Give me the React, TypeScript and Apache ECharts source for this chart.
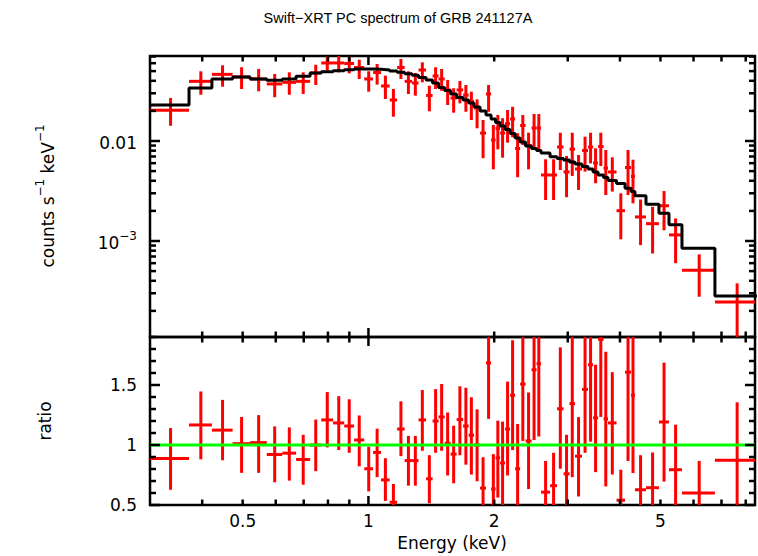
import React, { useEffect, useRef } from "react";
import * as echarts from "echarts";

const TITLE = "Swift\u2212XRT PC spectrum of GRB 241127A";
const Y_TOP_TITLE = "{a|counts s}{s|\u22121}{a| keV}{s|\u22121}";
const Y_BOT_TITLE = "ratio";
const X_TITLE = "Energy (keV)";

const X_MIN = 0.3;
const X_MAX = 8.42;
const TOP_MIN = 1.096e-4;
const TOP_MAX = 0.0708;
const BOT_MIN = 0.5;
const BOT_MAX = 1.9;

// energy bin edges (keV)
const binEdges = [
  0.3, 0.372, 0.422, 0.473, 0.521, 0.571, 0.622, 0.671, 0.725, 0.771, 0.823,
  0.875, 0.924, 0.977, 1.026, 1.072, 1.124, 1.171, 1.221, 1.272, 1.318, 1.374,
  1.424, 1.472, 1.522, 1.573, 1.626, 1.685, 1.737, 1.79, 1.85, 1.912, 1.966,
  2.015, 2.066, 2.123, 2.183, 2.244, 2.307, 2.377, 2.457, 2.526, 2.589, 2.721,
  2.828, 2.931, 3.029, 3.122, 3.245, 3.355, 3.449, 3.545, 3.654, 3.745, 3.925,
  4.113, 4.251, 4.345, 4.617, 4.959, 5.241, 5.63, 6.751, 8.51,
];

// counts s^-1 keV^-1
const rate = [
  0.0203, 0.0395, 0.0464, 0.0437, 0.0417, 0.0372, 0.0386, 0.0395, 0.0479, 0.0603,
  0.0603, 0.0596, 0.0543, 0.0417, 0.0484, 0.0355, 0.0257, 0.0543, 0.0395, 0.038,
  0.0513, 0.0285, 0.0447, 0.0417, 0.0324, 0.0269, 0.0324, 0.0288, 0.0248, 0.0214,
  0.012, 0.0295, 0.01023, 0.01334, 0.012, 0.0149, 0.0166, 0.00841, 0.01429, 0.00902,
  0.01349, 0.01349, 0.00457, 0.00457, 0.00871, 0.0049, 0.00828, 0.00525, 0.00804, 0.00871,
  0.00603, 0.00881, 0.00537, 0.0049, 0.00201, 0.00543, 0.00443, 0.00174, 0.00149, 0.00225,
  0.00115, 0.000509, 0.000245,
];
const rateLo = [
  0.0142, 0.029, 0.0349, 0.0331, 0.0314, 0.0274, 0.029, 0.0295, 0.0363, 0.0505,
  0.0486, 0.0475, 0.0417, 0.0311, 0.0366, 0.0263, 0.0175, 0.0417, 0.0295, 0.0284,
  0.0386, 0.0198, 0.0331, 0.0318, 0.0229, 0.0192, 0.0238, 0.0196, 0.0162, 0.0134,
  0.00673, 0.0196, 0.00521, 0.00826, 0.00681, 0.00962, 0.01089, 0.00434, 0.00912, 0.00521,
  0.00813, 0.00813, 0.00257, 0.00257, 0.00513, 0.00274, 0.00447, 0.00324, 0.00494, 0.00598,
  0.00378, 0.00562, 0.00288, 0.00312, 0.00104, 0.00288, 0.00238, 0.00091, 0.00075, 0.00128,
  0.0006, 0.000277, 0.00005,
];
const rateHi = [
  0.0269, 0.0498, 0.0571, 0.0546, 0.0525, 0.0468, 0.0486, 0.0486, 0.0579, 0.0713,
  0.072, 0.072, 0.065, 0.0498, 0.0589, 0.045, 0.0331, 0.0661, 0.0498, 0.0479,
  0.0612, 0.0357, 0.0546, 0.0525, 0.0407, 0.0337, 0.0398, 0.0363, 0.0311, 0.0261,
  0.0162, 0.0363, 0.01445, 0.0182, 0.0169, 0.0204, 0.022, 0.01194, 0.0182, 0.01211,
  0.01862, 0.0186, 0.00656, 0.00656, 0.0121, 0.00708, 0.0121, 0.00724, 0.01104, 0.0121,
  0.00845, 0.0121, 0.00813, 0.00687, 0.003, 0.00813, 0.0065, 0.0026, 0.0022, 0.00316,
  0.00168, 0.000735, 0.000377,
];
const model = [
  0.0229, 0.0339, 0.0417, 0.0437, 0.0417, 0.0405, 0.0417, 0.0444, 0.0479, 0.0493,
  0.0505, 0.0516, 0.0525, 0.0525, 0.0521, 0.0513, 0.0501, 0.0486, 0.0471, 0.0454,
  0.0432, 0.0407, 0.038, 0.0343, 0.032, 0.0295, 0.0272, 0.0257, 0.024, 0.0219,
  0.02, 0.0182, 0.0166, 0.0153, 0.0141, 0.013, 0.0119, 0.0107, 0.00977, 0.00891,
  0.00841, 0.00804, 0.00759, 0.00697, 0.00668, 0.00646, 0.00617, 0.00589, 0.00556, 0.00525,
  0.0049, 0.00457, 0.00432, 0.00403, 0.00376, 0.00337, 0.00312, 0.00284, 0.00233, 0.00189,
  0.00145, 0.000846, 0.000282,
];

// data / model
const ratio = [
  0.887, 1.167, 1.124, 1.011, 1.02, 0.921, 0.932, 0.879, 1.0, 1.209,
  1.184, 1.158, 1.042, 0.802, 0.938, 0.709, 0.523, 1.133, 0.87, 0.87,
  1.209, 0.718, 1.2, 1.234, 1.014, 0.924, 1.212, 1.158, 1.082, 1.0,
  0.641, 1.684, 0.633, 0.893, 0.85, 1.133, 1.415, 0.802, 1.508, 1.034,
  1.627, 1.678, 0.607, 0.661, 1.302, 0.76, 1.345, 0.907, 1.463, 1.669,
  1.226, 1.881, 1.218, 1.184, 0.54, 1.607, 1.415, 0.627, 0.644, 1.192,
  0.794, 0.599, 0.873,
];
const ratioLo = [
  0.627, 0.881, 0.873, 0.768, 0.768, 0.689, 0.703, 0.669, 0.782, 0.98,
  0.958, 0.935, 0.822, 0.613, 0.732, 0.534, 0.37, 0.907, 0.661, 0.661,
  0.952, 0.514, 0.935, 0.952, 0.746, 0.681, 0.915, 0.836, 0.754, 0.698,
  0.38, 1.218, 0.34, 0.562, 0.48, 0.746, 0.958, 0.43, 1.034, 0.633,
  1.042, 1.071, 0.35, 0.39, 0.802, 0.43, 0.732, 0.571, 0.935, 1.028,
  0.774, 1.234, 0.655, 0.754, 0.29, 0.867, 0.766, 0.34, 0.35, 0.695,
  0.42, 0.33, 0.39,
];
const ratioHi = [
  1.141, 1.446, 1.376, 1.234, 1.249, 1.155, 1.147, 1.085, 1.212, 1.441,
  1.407, 1.381, 1.246, 0.986, 1.136, 0.89, 0.675, 1.364, 1.076, 1.076,
  1.458, 0.915, 1.466, 1.508, 1.271, 1.161, 1.489, 1.477, 1.398, 1.297,
  0.898, 2.15, 0.924, 1.203, 1.195, 1.528, 1.873, 1.175, 1.98, 1.438,
  2.2, 2.28, 0.867, 0.935, 1.814, 1.085, 1.96, 1.232, 2.0, 2.3,
  1.669, 2.5, 1.777, 1.607, 0.794, 2.35, 2.07, 0.915, 0.938, 1.686,
  1.169, 0.867, 1.356,
];

// ticks and labels
const xMajorTicks = [1];
const xMinorTicks = [0.4, 0.5, 0.6, 0.7, 0.8, 0.9, 2, 3, 4, 5, 6, 7, 8];
const xLabelValues = [0.5, 1, 2, 5];
const xLabelTexts = ["0.5", "1", "2", "5"];
const topMajorTicks = [0.001, 0.01];
const topMinorTicks = [
  0.0002, 0.0003, 0.0004, 0.0005, 0.0006, 0.0007, 0.0008, 0.0009,
  0.002, 0.003, 0.004, 0.005, 0.006, 0.007, 0.008, 0.009,
  0.02, 0.03, 0.04, 0.05, 0.06, 0.07,
];
const topLabelValues = [0.01, 0.001];
const topLabelTexts = ["{a|0.01}", "{a|10}{s|\u22123}"];
const botMajorTicks = [0.5, 1, 1.5];
const botMinorTicks = [0.6, 0.7, 0.8, 0.9, 1.1, 1.2, 1.3, 1.4, 1.6, 1.7, 1.8, 1.9];
const botLabelValues = [0.5, 1, 1.5];
const botLabelTexts = ["0.5", "1", "1.5"];

const FONT = '"DejaVu Sans", Verdana, sans-serif';
const TITLE_FONT = '"Liberation Sans", Arial, Helvetica, sans-serif';
const FS = 17;
const RED = "#ff0000";
const GREEN = "#00ff00";
const LW = 3;
const TICK_W = 2.5;
const RICH = {
  a: { fontSize: FS, fontFamily: FONT, fill: "#000", color: "#000", lineHeight: 22, verticalAlign: "bottom" },
  s: { fontSize: 12, fontFamily: FONT, fill: "#000", color: "#000", lineHeight: 22, verticalAlign: "top" },
};

function errSeries(gi: number, rows: number[][]) {
  return {
    type: "custom",
    xAxisIndex: gi,
    yAxisIndex: gi,
    clip: true,
    silent: true,
    z: 3,
    data: rows,
    encode: { x: [0, 1, 2], y: [3, 4, 5] },
    renderItem: (_p: any, api: any) => {
      const lo = api.value(0);
      const hi = api.value(1);
      const xc = api.value(2);
      const y = api.value(3);
      const yl = api.value(4);
      const yh = api.value(5);
      const a = api.coord([lo, y]);
      const b = api.coord([hi, y]);
      const c = api.coord([xc, yl]);
      const d = api.coord([xc, yh]);
      return {
        type: "group",
        children: [
          { type: "line", shape: { x1: a[0], y1: a[1], x2: b[0], y2: b[1] }, style: { stroke: RED, lineWidth: LW } },
          { type: "line", shape: { x1: c[0], y1: c[1], x2: d[0], y2: d[1] }, style: { stroke: RED, lineWidth: LW } },
        ],
      };
    },
  };
}

function xTickSeries(gi: number, yLo: number, yHi: number, vals: number[], len: number) {
  return {
    type: "custom",
    xAxisIndex: gi,
    yAxisIndex: gi,
    silent: true,
    z: 8,
    data: vals.map((v) => [v, yLo]),
    encode: { x: 0, y: 1 },
    renderItem: (_p: any, api: any) => {
      const v = api.value(0);
      const pb = api.coord([v, yLo]);
      const pt = api.coord([v, yHi]);
      return {
        type: "group",
        children: [
          { type: "line", shape: { x1: pb[0], y1: pb[1], x2: pb[0], y2: pb[1] - len }, style: { stroke: "#000", lineWidth: TICK_W } },
          { type: "line", shape: { x1: pt[0], y1: pt[1], x2: pt[0], y2: pt[1] + len }, style: { stroke: "#000", lineWidth: TICK_W } },
        ],
      };
    },
  };
}

function yTickSeries(gi: number, vals: number[], len: number) {
  return {
    type: "custom",
    xAxisIndex: gi,
    yAxisIndex: gi,
    silent: true,
    z: 8,
    data: vals.map((v) => [X_MIN, v]),
    encode: { x: 0, y: 1 },
    renderItem: (_p: any, api: any) => {
      const v = api.value(1);
      const pl = api.coord([X_MIN, v]);
      const pr = api.coord([X_MAX, v]);
      return {
        type: "group",
        children: [
          { type: "line", shape: { x1: pl[0], y1: pl[1], x2: pl[0] + len, y2: pl[1] }, style: { stroke: "#000", lineWidth: TICK_W } },
          { type: "line", shape: { x1: pr[0], y1: pr[1], x2: pr[0] - len, y2: pr[1] }, style: { stroke: "#000", lineWidth: TICK_W } },
        ],
      };
    },
  };
}

function yLabelSeries(gi: number, vals: number[], texts: string[]) {
  return {
    type: "custom",
    xAxisIndex: gi,
    yAxisIndex: gi,
    silent: true,
    z: 8,
    data: vals.map((v, i) => [X_MIN, v, i]),
    encode: { x: 0, y: 1 },
    renderItem: (_p: any, api: any) => {
      const v = api.value(1);
      const i = api.value(2);
      const p = api.coord([X_MIN, v]);
      return {
        type: "text",
        x: p[0] - 13,
        y: p[1],
        style: {
          text: texts[i],
          rich: RICH,
          fontSize: FS,
          fontFamily: FONT,
          fill: "#000",
          align: "right",
          verticalAlign: "middle",
        },
      };
    },
  };
}

function xLabelSeries(gi: number, yBase: number) {
  return {
    type: "custom",
    xAxisIndex: gi,
    yAxisIndex: gi,
    silent: true,
    z: 8,
    data: xLabelValues.map((v, i) => [v, yBase, i]),
    encode: { x: 0, y: 1 },
    renderItem: (_p: any, api: any) => {
      const v = api.value(0);
      const i = api.value(2);
      const p = api.coord([v, yBase]);
      return {
        type: "text",
        x: p[0],
        y: p[1] + 16,
        style: {
          text: xLabelTexts[i],
          fontSize: FS,
          fontFamily: FONT,
          fill: "#000",
          align: "center",
          verticalAlign: "middle",
        },
      };
    },
  };
}

export default function App() {
  const ref = useRef<HTMLDivElement>(null);
  useEffect(() => {
    if (!ref.current) return;
    const chart = echarts.init(ref.current, undefined, { renderer: "svg" });
    const n = rate.length;
    const topRows: number[][] = [];
    const botRows: number[][] = [];
    for (let i = 0; i < n; i++) {
      const lo = binEdges[i];
      const hi = binEdges[i + 1];
      const xc = (lo + hi) / 2;
      topRows.push([lo, hi, xc, rate[i], rateLo[i], rateHi[i]]);
      botRows.push([lo, hi, xc, ratio[i], ratioLo[i], ratioHi[i]]);
    }
    const modelPts: number[][] = model.map((m, i) => [binEdges[i], m]);
    modelPts.push([binEdges[n], model[n - 1]]);

    const logX = (gi: number) => ({
      type: "log",
      logBase: 10,
      gridIndex: gi,
      min: X_MIN,
      max: X_MAX,
      axisLine: { show: false },
      axisTick: { show: false },
      axisLabel: { show: false },
      splitLine: { show: false },
    });

    const option: any = {
      animation: false,
      backgroundColor: "#ffffff",
      grid: [
        { left: 150, top: 56, width: 605, height: 281, show: true, borderColor: "#000", borderWidth: 2.5, backgroundColor: "transparent" },
        { left: 150, top: 337, width: 605, height: 168, show: true, borderColor: "#000", borderWidth: 2.5, backgroundColor: "transparent" },
      ],
      xAxis: [logX(0), logX(1)],
      yAxis: [
        {
          type: "log",
          logBase: 10,
          gridIndex: 0,
          min: TOP_MIN,
          max: TOP_MAX,
          axisLine: { show: false },
          axisTick: { show: false },
          axisLabel: { show: false },
          splitLine: { show: false },
        },
        {
          type: "value",
          gridIndex: 1,
          min: BOT_MIN,
          max: BOT_MAX,
          axisLine: { show: false },
          axisTick: { show: false },
          axisLabel: { show: false },
          splitLine: { show: false },
        },
      ],
      graphic: [
        {
          type: "text",
          x: 398,
          y: 18,
          style: { text: TITLE, fontSize: 14.5, fontFamily: TITLE_FONT, fill: "#000", align: "center", verticalAlign: "middle" },
        },
        {
          type: "text",
          x: 452,
          y: 543,
          style: { text: X_TITLE, fontSize: FS, fontFamily: FONT, fill: "#000", align: "center", verticalAlign: "middle" },
        },
        {
          type: "text",
          x: 45,
          y: 196,
          rotation: Math.PI / 2,
          style: { text: Y_TOP_TITLE, rich: RICH, fontSize: FS, fontFamily: FONT, fill: "#000", align: "center", verticalAlign: "middle" },
        },
        {
          type: "text",
          x: 45,
          y: 421,
          rotation: Math.PI / 2,
          style: { text: Y_BOT_TITLE, fontSize: FS, fontFamily: FONT, fill: "#000", align: "center", verticalAlign: "middle" },
        },
      ],
      series: [
        errSeries(0, topRows),
        {
          type: "line",
          xAxisIndex: 0,
          yAxisIndex: 0,
          step: "end",
          data: modelPts,
          symbol: "none",
          clip: true,
          silent: true,
          z: 4,
          lineStyle: { color: "#000", width: LW },
        },
        errSeries(1, botRows),
        {
          type: "line",
          xAxisIndex: 1,
          yAxisIndex: 1,
          data: [
            [X_MIN, 1],
            [X_MAX, 1],
          ],
          symbol: "none",
          clip: true,
          silent: true,
          z: 4,
          lineStyle: { color: GREEN, width: LW },
        },
        xTickSeries(0, TOP_MIN, TOP_MAX, xMinorTicks, 5.5),
        xTickSeries(0, TOP_MIN, TOP_MAX, xMajorTicks, 9),
        xTickSeries(1, BOT_MIN, BOT_MAX, xMinorTicks, 5.5),
        xTickSeries(1, BOT_MIN, BOT_MAX, xMajorTicks, 9),
        yTickSeries(0, topMinorTicks, 6),
        yTickSeries(0, topMajorTicks, 10),
        yTickSeries(1, botMinorTicks, 6),
        yTickSeries(1, botMajorTicks, 10),
        yLabelSeries(0, topLabelValues, topLabelTexts),
        yLabelSeries(1, botLabelValues, botLabelTexts),
        xLabelSeries(1, BOT_MIN),
      ],
    };
    chart.setOption(option);
    return () => chart.dispose();
  }, []);
  return (
    <div
      ref={ref}
      style={{ position: "absolute", left: 0, top: 0, width: 758, height: 556, background: "#fff" }}
    />
  );
}
